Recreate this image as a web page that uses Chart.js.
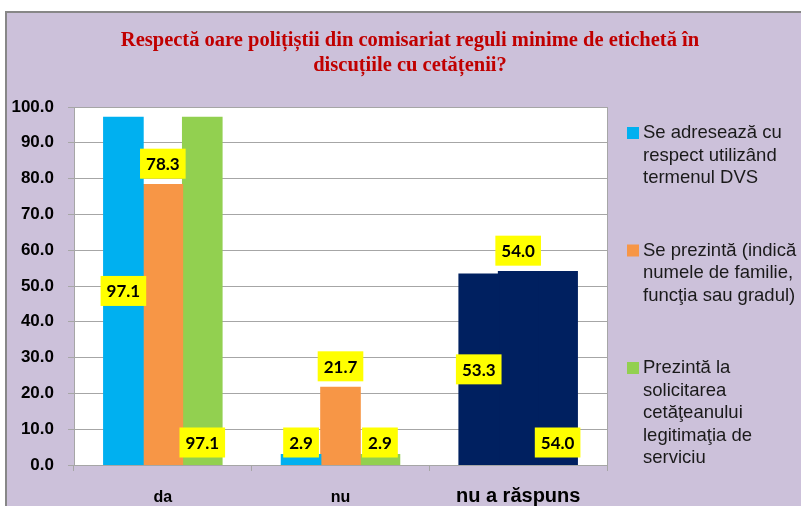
<!DOCTYPE html>
<html>
<head>
<meta charset="utf-8">
<script src="https://cdn.jsdelivr.net/npm/chart.js@4.4.1/dist/chart.umd.min.js"></script>
<style>
  html, body { margin: 0; padding: 0; background: #fff; overflow: hidden; }
  #frame { position: absolute; left: 5px; top: 11px; width: 794px; height: 493px;
           border-left: 2px solid #878787; border-top: 2px solid #878787; background: #CCC1DA; }
  canvas { display: block; }
</style>
</head>
<body>
<div id="frame"><canvas id="chart" width="794" height="493"></canvas></div>
<script>
const titleLines = ['Respectă oare polițiștii din comisariat reguli minime de etichetă în', 'discuțiile cu cetățenii?'];
const categories = ['da', 'nu', 'nu a răspuns'];
const seriesNames = [
    ['Se adresează cu', 'respect utilizând', 'termenul DVS'],
    ['Se prezintă (indică', 'numele de familie,', 'funcţia sau gradul)'],
    ['Prezintă la', 'solicitarea', 'cetăţeanului', 'legitimaţia de', 'serviciu']
];
const adreseaza = [97.1, 2.9, 53.3];
const prezinta = [78.3, 21.7, 54.0];
const laSolicitare = [97.1, 2.9, 54.0];

const navy = '#002060';

// title centred over the whole frame, not just the plot
const frameTitle = {
    id: 'frameTitle',
    afterDraw(chart) {
        const ctx = chart.ctx;
        ctx.save();
        ctx.font = 'bold 20.5px "Liberation Serif"';
        ctx.fillStyle = '#C00000';
        ctx.textAlign = 'center';
        ctx.textBaseline = 'middle';
        titleLines.forEach((line, i) => ctx.fillText(line, 403, 28 + i * 25));
        ctx.restore();
    }
};

// white plot area + right edge line
const plotBg = {
    id: 'plotBg',
    beforeDraw(chart) {
        const { ctx, chartArea: a } = chart;
        ctx.save();
        ctx.fillStyle = '#fff';
        ctx.fillRect(a.left, a.top, a.right - a.left, a.bottom - a.top);
        ctx.restore();
    },
    afterDraw(chart) {
        const { ctx, chartArea: a } = chart;
        ctx.save();
        ctx.strokeStyle = '#A6A6A6';
        ctx.lineWidth = 1;
        ctx.beginPath();
        ctx.moveTo(a.right + 0.5, a.top);
        ctx.lineTo(a.right + 0.5, a.bottom);
        ctx.stroke();
        ctx.restore();
    }
};

// yellow value boxes
const valueBoxes = {
    id: 'valueBoxes',
    afterDatasetsDraw(chart) {
        const ctx = chart.ctx;
        ctx.save();
        ctx.font = 'bold 17px Lato';
        ctx.textAlign = 'center';
        ctx.textBaseline = 'middle';
        chart.data.datasets.forEach((ds, i) => {
            chart.getDatasetMeta(i).data.forEach((bar, j) => {
                const txt = ds.data[j].toFixed(1);
                let cy;
                if (ds.labelPos === 'end') cy = bar.y - 21;
                else if (ds.labelPos === 'base') cy = bar.base - 22;
                else cy = Math.min((bar.y + bar.base) / 2, bar.base - 22);
                const w = ctx.measureText(txt).width + 12;
                ctx.fillStyle = '#FFFF00';
                ctx.fillRect(bar.x - w / 2, cy - 15, w, 30);
                ctx.fillStyle = '#000';
                ctx.fillText(txt, bar.x, cy + 1);
            });
        });
        ctx.restore();
    }
};

// legend on the right, wrapped over several lines
const sideLegend = {
    id: 'sideLegend',
    afterDraw(chart) {
        const ctx = chart.ctx;
        const x = chart.chartArea.right + 20;
        let y = 120;
        ctx.save();
        ctx.font = '18.5px "Liberation Sans"';
        ctx.textBaseline = 'middle';
        ctx.textAlign = 'left';
        chart.data.datasets.forEach((ds, i) => {
            ctx.fillStyle = ds.legendColor;
            ctx.fillRect(x, y - 6, 12, 12);
            ctx.fillStyle = '#1a1a1a';
            seriesNames[i].forEach((line, k) => ctx.fillText(line, x + 16, y + k * 22.5));
            y += seriesNames[i].length * 22.5 + 50;
        });
        ctx.restore();
    }
};

new Chart(document.getElementById('chart'), {
    type: 'bar',
    data: {
        labels: categories,
        datasets: [
            { label: seriesNames[0].join(' '), data: adreseaza, backgroundColor: ['#00B0F0', '#00B0F0', navy], legendColor: '#00B0F0', labelPos: 'center' },
            { label: seriesNames[1].join(' '), data: prezinta, backgroundColor: ['#F79646', '#F79646', navy], legendColor: '#F79646', labelPos: 'end' },
            { label: seriesNames[2].join(' '), data: laSolicitare, backgroundColor: ['#92D050', '#92D050', navy], legendColor: '#92D050', labelPos: 'base' }
        ]
    },
    options: {
        responsive: false,
        animation: false,
        categoryPercentage: 0.666,
        barPercentage: 1,
        inflateAmount: 0.6,
        layout: { padding: { right: 194, left: 0, top: 94, bottom: 0 } },
        plugins: {
            legend: { display: false },
            tooltip: { enabled: false },
            title: { display: false }
        },
        scales: {
            x: {
                ticks: {
                    color: '#000',
                    padding: 13,
                    font: c => ({ family: 'Liberation Sans', weight: 'bold', size: c.index === 2 ? 20 : 16, lineHeight: c.index === 2 ? 1.2 : 1.75 })
                },
                grid: { drawOnChartArea: false, tickLength: 6, color: '#A6A6A6', offset: true },
                border: { color: '#A6A6A6' },
                afterFit(s) { s.height = 41; }
            },
            y: {
                min: 0,
                max: 100,
                ticks: {
                    stepSize: 10,
                    callback: v => v.toFixed(1),
                    color: '#000',
                    padding: 14,
                    font: { family: 'Liberation Sans', weight: 'bold', size: 17 }
                },
                grid: { color: '#A6A6A6', tickLength: 6 },
                border: { color: '#A6A6A6' },
                afterFit(s) { s.width = 67; }
            }
        }
    },
    plugins: [plotBg, valueBoxes, sideLegend, frameTitle]
});
</script>
</body>
</html>
